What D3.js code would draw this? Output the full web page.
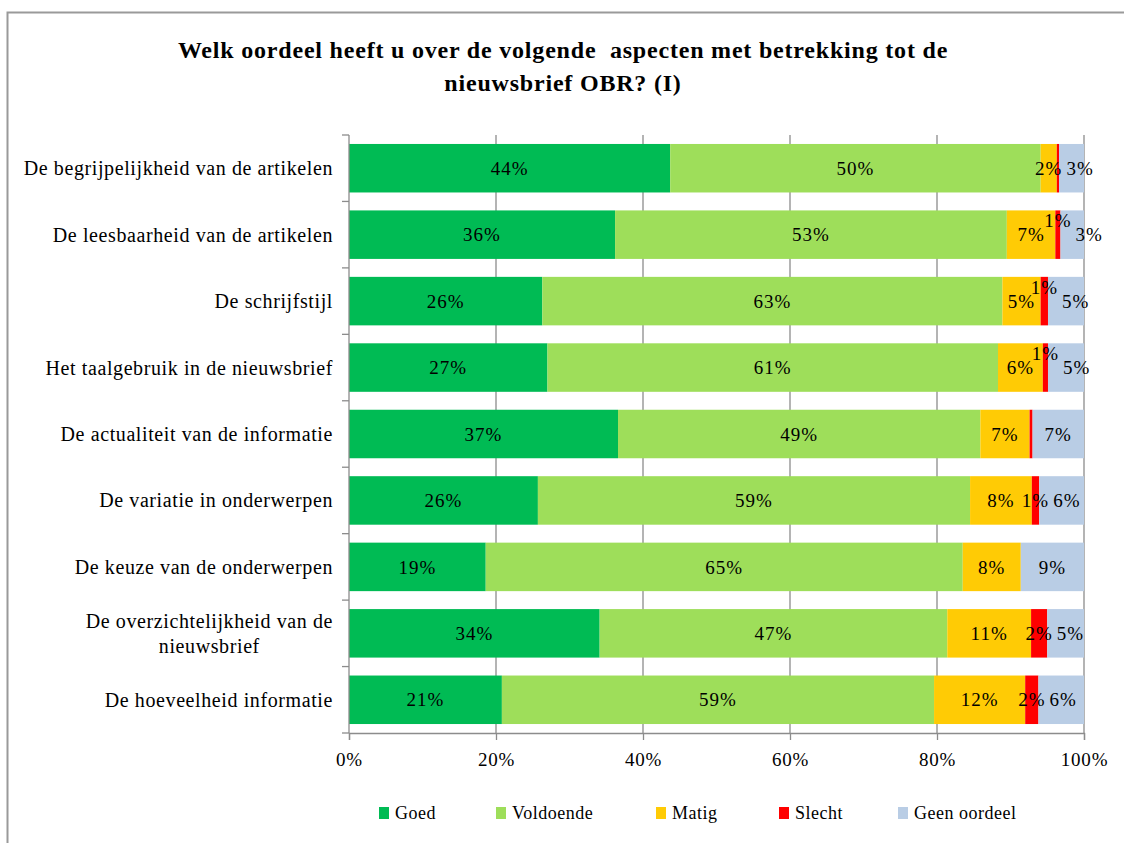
<!DOCTYPE html>
<html>
<head>
<meta charset="utf-8">
<script src="https://cdn.jsdelivr.net/npm/d3@7"></script>
<style>
  html, body { margin: 0; padding: 0; background: #fff; }
  svg { display: block; }
  text { font-family: "Liberation Serif", "DejaVu Serif", serif; fill: #000; }
</style>
</head>
<body>
<svg id="chart" width="1124" height="843"></svg>
<script>
// Survey: opinion on aspects of the OBR newsletter (percentages per aspect)
const categories = [
  ["De begrijpelijkheid van de artikelen"],
  ["De leesbaarheid van de artikelen"],
  ["De schrijfstijl"],
  ["Het taalgebruik in de nieuwsbrief"],
  ["De actualiteit van de informatie"],
  ["De variatie in onderwerpen"],
  ["De keuze van de onderwerpen"],
  ["De overzichtelijkheid van de", "nieuwsbrief"],
  ["De hoeveelheid informatie"]
];
const seriesNames = ["Goed", "Voldoende", "Matig", "Slecht", "Geen oordeel"];
const goed       = [43.7, 36.2, 26.3, 27.0, 36.6, 25.7, 18.6, 34.1, 20.8];
const voldoende  = [50.4, 53.3, 62.6, 61.3, 49.3, 58.8, 64.9, 47.3, 58.8];
const matig      = [ 2.2,  6.6,  5.2,  6.1,  6.7,  8.4,  7.9, 11.4, 12.4];
const slecht     = [ 0.3,  0.7,  1.0,  0.7,  0.4,  1.0,  0.0,  2.2,  1.8];
const geenOordeel= [ 3.4,  3.2,  4.9,  4.9,  7.0,  6.1,  8.6,  5.0,  6.2];
const tickValues = [0, 0.2, 0.4, 0.6, 0.8, 1.0];
const titleLines = ["Welk oordeel heeft u over de volgende  aspecten met betrekking tot de",
                    "nieuwsbrief OBR? (I)"];

const colors = ["#00BB54", "#9EDE5A", "#FFCB05", "#FF0000", "#B9CDE5"];

const rows = categories.map((c, i) => ({
  key: c.join(" "),
  lines: c,
  "Goed": goed[i],
  "Voldoende": voldoende[i],
  "Matig": matig[i],
  "Slecht": slecht[i],
  "Geen oordeel": geenOordeel[i]
}));

const svg = d3.select("#chart");

// outer frame
svg.append("path")
  .attr("d", "M7.5,843 L7.5,12.5 L1124,12.5")
  .attr("fill", "none").attr("stroke", "#9a9a9a").attr("stroke-width", 2);

// title
const title = svg.append("text")
  .attr("text-anchor", "middle")
  .attr("font-weight", "bold")
  .attr("font-size", 24)
  .attr("letter-spacing", "0.8px");
titleLines.forEach((t, i) => {
  title.append("tspan").attr("x", 563).attr("y", 58 + i * 33)
    .attr("xml:space", "preserve").text(t);
});

const plot = { left: 349, right: 1084, top: 135, bottom: 733 };

const x = d3.scaleLinear().domain([0, 1]).range([plot.left, plot.right]);
const y = d3.scaleBand().domain(rows.map(d => d.key))
  .range([plot.top, plot.bottom]).paddingInner(0.27).paddingOuter(0.135);

const stack = d3.stack().keys(seriesNames).offset(d3.stackOffsetExpand);
const layers = stack(rows);

// vertical gridlines
const gridColor = "#8c8c8c";
svg.append("g").selectAll("line").data(tickValues.slice(1)).join("line")
  .attr("x1", d => x(d)).attr("x2", d => x(d))
  .attr("y1", plot.top).attr("y2", plot.bottom)
  .attr("stroke", gridColor).attr("stroke-width", 1.3);

// bars
layers.forEach((layer, li) => {
  svg.append("g").attr("fill", colors[li])
    .selectAll("rect").data(layer).join("rect")
    .attr("x", d => x(d[0]))
    .attr("y", d => y(d.data.key))
    .attr("width", d => Math.max(0, x(d[1]) - x(d[0])))
    .attr("height", y.bandwidth());
});

// x axis
const xAxis = d3.axisBottom(x).tickValues(tickValues)
  .tickFormat(d3.format(".0%")).tickSize(7).tickPadding(13);
const gx = svg.append("g").attr("transform", `translate(0,${plot.bottom})`).call(xAxis);
gx.select(".domain").attr("stroke", gridColor).attr("stroke-width", 1.3);
gx.selectAll(".tick line").attr("stroke", gridColor).attr("stroke-width", 1.3);
gx.selectAll(".tick text").attr("font-size", 19).attr("letter-spacing", "0.8px")
  .attr("font-family", "Liberation Serif, serif").attr("fill", "#000");

// y axis line and tick marks at category boundaries
const boundaries = d3.range(rows.length + 1).map(i => plot.top + i * (plot.bottom - plot.top) / rows.length);
svg.append("line").attr("x1", plot.left).attr("x2", plot.left)
  .attr("y1", plot.top).attr("y2", plot.bottom)
  .attr("stroke", gridColor).attr("stroke-width", 1.3);
svg.append("g").selectAll("line").data(boundaries).join("line")
  .attr("x1", plot.left - 7).attr("x2", plot.left)
  .attr("y1", d => d).attr("y2", d => d)
  .attr("stroke", gridColor).attr("stroke-width", 1.3);

// category labels (multi-line labels centred under their first line)
const catG = svg.append("g");
rows.forEach(r => {
  const cy = y(r.key) + y.bandwidth() / 2;
  const n = r.lines.length;
  const lh = 25;
  const g = catG.append("g");
  const texts = r.lines.map((ln, i) => g.append("text")
    .attr("font-size", 20)
    .attr("letter-spacing", "0.6px")
    .attr("y", cy + (i - (n - 1) / 2) * lh)
    .attr("dy", "0.35em")
    .text(ln));
  const widths = texts.map(t => t.node().getComputedTextLength());
  const maxW = d3.max(widths);
  const right = plot.left - 16;
  const mid = right - maxW / 2;
  texts.forEach(t => t.attr("x", mid).attr("text-anchor", "middle"));
});

// data labels, centred in each segment; crowded labels at the right end are
// separated: a narrow "Slecht" label is lifted, "Geen oordeel" slides right
const fmt = d3.format(".0%");
const labelG = svg.append("g");
const overlap = (a, b) => Math.min(a.cx + a.w / 2, b.cx + b.w / 2) - Math.max(a.cx - a.w / 2, b.cx - b.w / 2);
rows.forEach((r, ri) => {
  const cy = y(r.key) + y.bandwidth() / 2;
  const placed = [];
  layers.forEach((layer, li) => {
    const d = layer[ri];
    const v = d[1] - d[0];
    if (Math.round(v * 100) < 1) return;
    const cx = (x(d[0]) + x(d[1])) / 2;
    const t = labelG.append("text")
      .attr("font-size", 19)
      .attr("letter-spacing", "1px")
      .attr("text-anchor", "middle")
      .attr("x", cx)
      .attr("y", cy).attr("dy", "0.35em")
      .text(fmt(v));
    const w = t.node().getComputedTextLength();
    placed.push({ t, li, cx, w });
  });
  const s = placed.find(p => p.li === 3);
  const m = placed.find(p => p.li === 2);
  const g = placed.find(p => p.li === 4);
  if (s) {
    const o1 = m ? overlap(m, s) : -1;
    const o2 = g ? overlap(s, g) : -1;
    if (Math.max(o1, o2) > 4) s.t.attr("y", cy - 14);
  }
  if (g) {
    const prev = s || m;
    if (prev) {
      const o = overlap(prev, g);
      if (o > -4) {
        g.cx += o + 4;
        g.t.attr("x", g.cx);
      }
    }
  }
});

// legend
const legendX = [379, 496, 656, 779, 898];
const legend = svg.append("g");
seriesNames.forEach((name, i) => {
  legend.append("rect").attr("x", legendX[i]).attr("y", 807)
    .attr("width", 10).attr("height", 12).attr("fill", colors[i]);
  legend.append("text").attr("x", legendX[i] + 16).attr("y", 813)
    .attr("dy", "0.35em").attr("font-size", 18).attr("letter-spacing", "0.5px").text(name);
});
</script>
</body>
</html>
